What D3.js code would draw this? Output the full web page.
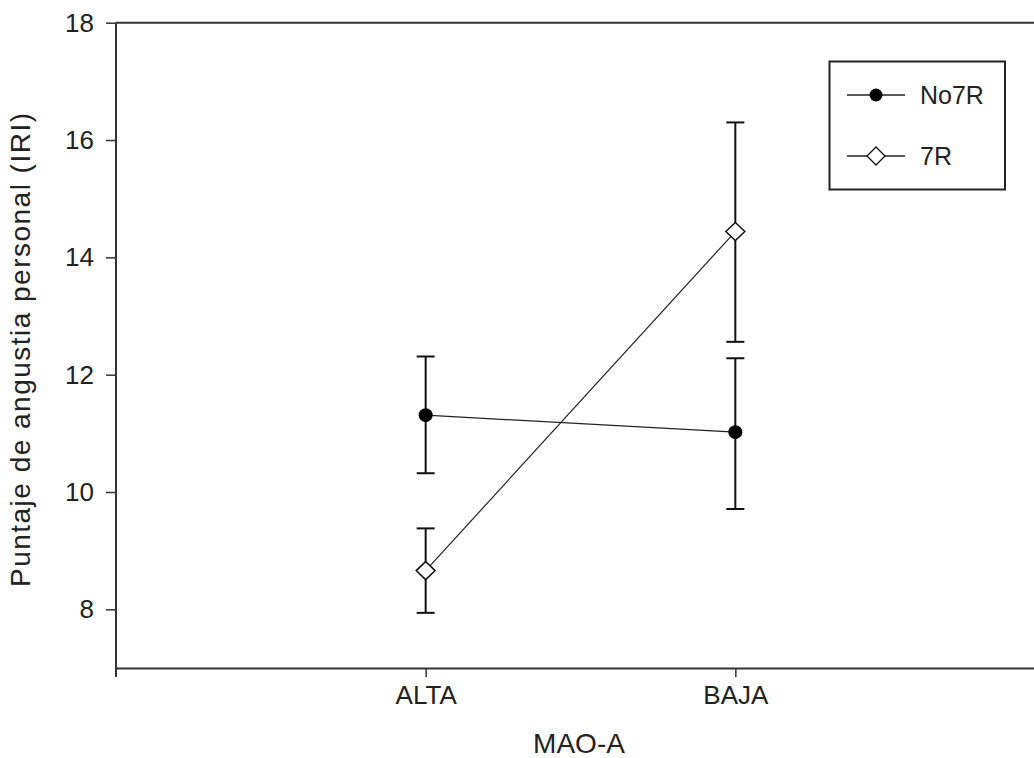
<!DOCTYPE html>
<html>
<head>
<meta charset="utf-8">
<script src="https://cdn.jsdelivr.net/npm/d3@7"></script>
<style>
  body { margin: 0; background: #fff; }
  text { font-family: "Liberation Sans", Arial, sans-serif; fill: #222; }
</style>
</head>
<body>
<svg id="chart" width="1034" height="758"></svg>
<script>
// MAO-A groups on the x axis
var categories = ["ALTA", "BAJA"];
var yTicks = [8, 10, 12, 14, 16, 18];

// means and error bar ends
var no7rMean = [11.31, 11.02];
var no7rLow  = [10.32, 9.71];
var no7rHigh = [12.31, 12.28];

var r7Mean = [8.66, 14.44];
var r7Low  = [7.94, 12.56];
var r7High = [9.38, 16.30];

var series = [
  { name: "No7R", mean: no7rMean, low: no7rLow, high: no7rHigh, filled: true },
  { name: "7R",   mean: r7Mean,   low: r7Low,   high: r7High,   filled: false }
];

var svg = d3.select("#chart");

var x = d3.scaleLinear().domain([0, 3]).range([116, 1045]);
var y = d3.scaleLinear().domain([7, 18]).range([668, 22.7]);

// diamond marker path centred on 0,0
function diamond(w, h) {
  return "M0," + (-h) + "L" + w + ",0L0," + h + "L" + (-w) + ",0Z";
}

// top frame line
svg.append("line")
  .attr("x1", x(0)).attr("x2", x(3))
  .attr("y1", y(18)).attr("y2", y(18))
  .attr("stroke", "#333").attr("stroke-width", 2);

// y axis
var yAxis = svg.append("g")
  .attr("transform", "translate(" + x(0) + ",0)")
  .call(d3.axisLeft(y).tickValues(yTicks).tickSize(10).tickPadding(12).tickSizeOuter(0));
yAxis.select(".domain").remove();
yAxis.append("line")
  .attr("x1", 0).attr("x2", 0)
  .attr("y1", y(18)).attr("y2", 677)
  .attr("stroke", "#333").attr("stroke-width", 2);
yAxis.selectAll(".tick line").attr("stroke", "#333").attr("stroke-width", 1.5);
yAxis.selectAll(".tick text")
  .attr("font-size", 26)
  .attr("fill", "#222")
  .style("font-family", "'Liberation Sans', Arial, sans-serif");

// x axis
var xAxis = svg.append("g")
  .attr("transform", "translate(0," + y(7) + ")")
  .call(d3.axisBottom(x).tickValues([1, 2])
    .tickFormat(function(d) { return categories[d - 1]; })
    .tickSize(9).tickPadding(9).tickSizeOuter(0));
xAxis.select(".domain").attr("stroke", "#333").attr("stroke-width", 2);
xAxis.selectAll(".tick line").attr("stroke", "#333").attr("stroke-width", 1.5);
xAxis.selectAll(".tick text")
  .attr("font-size", 26)
  .attr("fill", "#222")
  .style("font-family", "'Liberation Sans', Arial, sans-serif");

// axis titles
svg.append("text")
  .attr("x", 579).attr("y", 753)
  .attr("text-anchor", "middle")
  .attr("font-size", 28)
  .text("MAO-A");

svg.append("text")
  .attr("transform", "translate(30,350) rotate(-90)")
  .attr("text-anchor", "middle")
  .attr("font-size", 28)
  .attr("textLength", 474)
  .attr("lengthAdjust", "spacing")
  .text("Puntaje de angustia personal (IRI)");

var line = d3.line()
  .x(function(d, i) { return x(i + 1); })
  .y(function(d) { return y(d); });

series.forEach(function(s) {
  var g = svg.append("g");

  g.append("path")
    .attr("d", line(s.mean))
    .attr("fill", "none")
    .attr("stroke", "#222")
    .attr("stroke-width", 1.2);

  // error bars
  s.mean.forEach(function(m, i) {
    var cx = x(i + 1);
    g.append("line")
      .attr("x1", cx).attr("x2", cx)
      .attr("y1", y(s.low[i])).attr("y2", y(s.high[i]))
      .attr("stroke", "#111").attr("stroke-width", 2);
    [s.low[i], s.high[i]].forEach(function(v) {
      g.append("line")
        .attr("x1", cx - 9).attr("x2", cx + 9)
        .attr("y1", y(v)).attr("y2", y(v))
        .attr("stroke", "#111").attr("stroke-width", 2);
    });
  });

  // markers
  s.mean.forEach(function(m, i) {
    if (s.filled) {
      g.append("circle")
        .attr("cx", x(i + 1)).attr("cy", y(m))
        .attr("r", 7)
        .attr("fill", "#000");
    } else {
      g.append("path")
        .attr("transform", "translate(" + x(i + 1) + "," + y(m) + ")")
        .attr("d", diamond(9.5, 9))
        .attr("fill", "#fff")
        .attr("stroke", "#111")
        .attr("stroke-width", 1.5);
    }
  });
});

// legend
var legend = svg.append("g");
legend.append("rect")
  .attr("x", 829.5).attr("y", 61.5)
  .attr("width", 175.5).attr("height", 128)
  .attr("fill", "#fff")
  .attr("stroke", "#222").attr("stroke-width", 2);

var rows = legend.selectAll("g.row")
  .data(series)
  .enter().append("g")
  .attr("class", "row")
  .attr("transform", function(d, i) { return "translate(876," + (95 + i * 61) + ")"; });

rows.append("line")
  .attr("x1", -29).attr("x2", 29)
  .attr("y1", 0).attr("y2", 0)
  .attr("stroke", "#222").attr("stroke-width", 1.5);

rows.each(function(d) {
  var r = d3.select(this);
  if (d.filled) {
    r.append("circle").attr("r", 6.5).attr("fill", "#000");
  } else {
    r.append("path")
      .attr("d", diamond(9, 9))
      .attr("fill", "#fff")
      .attr("stroke", "#111")
      .attr("stroke-width", 1.3);
  }
});

rows.append("text")
  .attr("x", 44).attr("y", 9)
  .attr("font-size", 25)
  .text(function(d) { return d.name; });
</script>
</body>
</html>
